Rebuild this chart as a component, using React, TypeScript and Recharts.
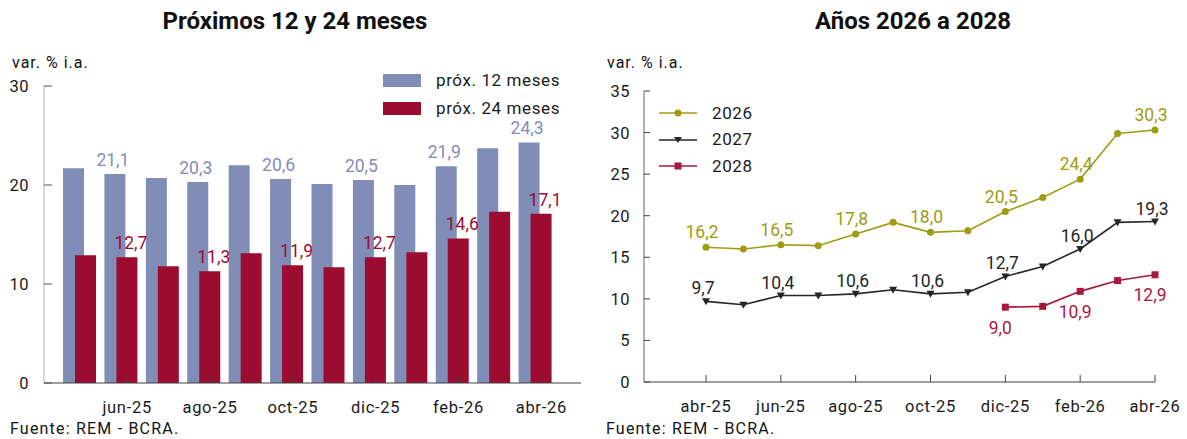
import React from 'react';
import { BarChart, Bar, XAxis, YAxis, LabelList, Legend, LineChart, Line } from 'recharts';

const FONT = 'Roboto, "Noto Sans", Arial, sans-serif';

// ---------- Left chart data ----------
const barMonths = ['may-25', 'jun-25', 'jul-25', 'ago-25', 'sep-25', 'oct-25', 'nov-25', 'dic-25', 'ene-26', 'feb-26', 'mar-26', 'abr-26'];
const barTickLabels = ['jun-25', 'ago-25', 'oct-25', 'dic-25', 'feb-26', 'abr-26'];
const next12 = [21.7, 21.1, 20.7, 20.3, 22.0, 20.6, 20.1, 20.5, 20.0, 21.9, 23.7, 24.3];
const next24 = [12.9, 12.7, 11.8, 11.3, 13.1, 11.9, 11.7, 12.7, 13.2, 14.6, 17.3, 17.1];
const barYTicks = [0, 10, 20, 30];

// ---------- Right chart data ----------
const lineMonths = ['abr-25', 'may-25', 'jun-25', 'jul-25', 'ago-25', 'sep-25', 'oct-25', 'nov-25', 'dic-25', 'ene-26', 'feb-26', 'mar-26', 'abr-26'];
const lineTickLabels = ['abr-25', 'jun-25', 'ago-25', 'oct-25', 'dic-25', 'feb-26', 'abr-26'];
const y2026 = [16.2, 16.0, 16.5, 16.4, 17.8, 19.2, 18.0, 18.2, 20.5, 22.2, 24.4, 29.9, 30.3];
const y2027 = [9.7, 9.3, 10.4, 10.4, 10.6, 11.1, 10.6, 10.8, 12.7, 13.9, 16.0, 19.2, 19.3];
const y2028 = [null, null, null, null, null, null, null, null, 9.0, 9.1, 10.9, 12.2, 12.9];
const lineYTicks = [0, 5, 10, 15, 20, 25, 30, 35];

const C_BLUE = '#7f8db7';
const C_RED = '#9b0c30';
const C_OLIVE = '#a09b12';
const C_DARK = '#262626';
const C_CRIMSON = '#a8183e';

const fmt = (v: any) => (v == null ? '' : Number(v).toFixed(1).replace('.', ','));

const barData = barMonths.map((m, i) => ({
  m,
  a: next12[i],
  b: next24[i],
  la: barTickLabels.includes(m) ? next12[i] : null,
  lb: barTickLabels.includes(m) ? next24[i] : null,
}));

const lineData = lineMonths.map((m, i) => {
  const lab = lineTickLabels.includes(m);
  return {
    m,
    a: y2026[i],
    b: y2027[i],
    c: y2028[i],
    la: lab ? y2026[i] : null,
    lb: lab ? y2027[i] : null,
    lc: lab ? y2028[i] : null,
  };
});

const makeYTick = (margin: number, tickLen: number, tickColor: string) => (props: any) => {
  const { x, y, payload } = props;
  const ax = x + margin;
  return (
    <g key={`yt-${payload.value}`}>
      <line x1={ax} x2={ax + tickLen} y1={y} y2={y} stroke={tickColor} strokeWidth={1} />
      <text x={x} y={y} dy="0.36em" textAnchor="end" fontFamily={FONT} fontSize={16.5} letterSpacing={0.5} fill="#1a1a1a">
        {payload.value}
      </text>
    </g>
  );
};

const makeXTick = (margin: number, labels: string[], dx: number, tickColor: string) => (props: any) => {
  const { x, y, payload } = props;
  if (!labels.includes(payload.value)) return <g key={`xt-${payload.value}`} />;
  const ay = y - margin;
  const tx = x + dx;
  return (
    <g key={`xt-${payload.value}`}>
      <line x1={tx} x2={tx} y1={ay} y2={ay - 7} stroke={tickColor} strokeWidth={1} />
      <text x={tx} y={ay + 30} textAnchor="middle" fontFamily={FONT} fontSize={16.5} letterSpacing={0.7} fill="#1a1a1a">
        {payload.value}
      </text>
    </g>
  );
};

const BarLegend = () => (
  <div style={{ fontFamily: FONT, fontSize: 17, letterSpacing: 0.6, color: '#1a1a1a' }}>
    {[
      { c: C_BLUE, t: 'próx. 12 meses' },
      { c: C_RED, t: 'próx. 24 meses' },
    ].map((it) => (
      <div key={it.t} style={{ display: 'flex', alignItems: 'center', height: 27.5 }}>
        <div style={{ width: 38, height: 13, background: it.c, marginRight: 15, flex: 'none' }} />
        <span style={{ lineHeight: 1 }}>{it.t}</span>
      </div>
    ))}
  </div>
);

const Marker = ({ kind, color }: { kind: string; color: string }) => (
  <svg width={38} height={10} style={{ marginRight: 15, overflow: 'visible', flex: 'none' }}>
    <line x1={0} x2={38} y1={5} y2={5} stroke={color} strokeWidth={1.6} />
    {kind === 'circle' && <circle cx={19} cy={5} r={3.5} fill={color} />}
    {kind === 'tri' && <path d="M15,2 L23,2 L19,8 Z" fill={color} />}
    {kind === 'square' && <rect x={15.5} y={1.5} width={7} height={7} fill={color} />}
  </svg>
);

const LineLegend = () => (
  <div style={{ fontFamily: FONT, fontSize: 17, letterSpacing: 0.6, color: '#1a1a1a' }}>
    {[
      { c: C_OLIVE, t: '2026', k: 'circle' },
      { c: C_DARK, t: '2027', k: 'tri' },
      { c: C_CRIMSON, t: '2028', k: 'square' },
    ].map((it) => (
      <div key={it.t} style={{ display: 'flex', alignItems: 'center', height: 26.5 }}>
        <Marker kind={it.k} color={it.c} />
        <span style={{ lineHeight: 1 }}>{it.t}</span>
      </div>
    ))}
  </div>
);

const circleDot = (color: string) => (p: any) =>
  p.cy == null ? <g key={p.index} /> : <circle key={p.index} cx={p.cx} cy={p.cy} r={3.5} fill={color} />;
const triDot = (color: string) => (p: any) =>
  p.cy == null ? <g key={p.index} /> : (
    <path key={p.index} d={`M${p.cx - 4},${p.cy - 3} L${p.cx + 4},${p.cy - 3} L${p.cx},${p.cy + 4} Z`} fill={color} />
  );
const squareDot = (color: string) => (p: any) =>
  p.cy == null ? <g key={p.index} /> : <rect key={p.index} x={p.cx - 3.5} y={p.cy - 3.5} width={7} height={7} fill={color} />;

const textStyle = (fs: number, bold = false, ls = 0): React.CSSProperties => ({
  position: 'absolute',
  fontFamily: FONT,
  fontSize: fs,
  fontWeight: bold ? 700 : 400,
  letterSpacing: ls,
  lineHeight: 1,
  color: '#111',
  whiteSpace: 'nowrap',
});

export default function App() {
  return (
    <div style={{ position: 'absolute', left: 0, top: 0, width: 1187, height: 439, background: '#fff', overflow: 'hidden' }}>
      <div style={{ ...textStyle(24, true), left: 0, width: 590, textAlign: 'center', top: 9 }}>Próximos 12 y 24 meses</div>
      <div style={{ ...textStyle(24, true), left: 618, width: 590, textAlign: 'center', top: 9 }}>Años 2026 a 2028</div>
      <div style={{ ...textStyle(16, false, 1), left: 12, top: 55 }}>var. % i.a.</div>
      <div style={{ ...textStyle(16, false, 1), left: 607, top: 55 }}>var. % i.a.</div>
      <div style={{ ...textStyle(16, false, 1.2), left: 10, top: 421 }}>Fuente: REM - BCRA.</div>
      <div style={{ ...textStyle(16, false, 1.2), left: 606, top: 421 }}>Fuente: REM - BCRA.</div>

      <div style={{ position: 'absolute', left: 0, top: 0 }}>
        <BarChart
          width={600}
          height={439}
          data={barData}
          margin={{ top: 86, right: 19, bottom: 26, left: 0 }}
          barSize={21}
          barGap={-9}
        >
          <XAxis
            dataKey="m"
            interval={0}
            height={30}
            padding={{ left: 15, right: 25 }}
            axisLine={{ stroke: '#404040' }}
            tickLine={false}
            tickSize={0}
            tickMargin={14}
            tick={makeXTick(14, barTickLabels, 6, '#404040')}
          />
          <YAxis
            domain={[0, 30]}
            ticks={barYTicks}
            width={44}
            axisLine={{ stroke: '#b0b0b0' }}
            tickLine={false}
            tickSize={0}
            tickMargin={15}
            tick={makeYTick(15, 8, '#555')}
          />
          <Legend
            layout="vertical"
            align="center"
            verticalAlign="middle"
            wrapperStyle={{ left: 383, top: 67, width: 210, height: 56 }}
            content={() => <BarLegend />}
          />
          <Bar dataKey="a" fill={C_BLUE} isAnimationActive={false}>
            <LabelList dataKey="la" position="top" offset={8} dx={-2} formatter={fmt} fill={C_BLUE} fontFamily={FONT} fontSize={17.5} />
          </Bar>
          <Bar dataKey="b" fill={C_RED} isAnimationActive={false}>
            <LabelList dataKey="lb" position="top" offset={8} dx={4} formatter={fmt} fill={C_RED} fontFamily={FONT} fontSize={17.5} />
          </Bar>
        </BarChart>
      </div>

      <div style={{ position: 'absolute', left: 595, top: 0 }}>
        <LineChart width={592} height={439} data={lineData} margin={{ top: 91, right: 32, bottom: 27, left: 0 }}>
          <XAxis
            dataKey="m"
            scale="point"
            interval={0}
            height={30}
            padding={{ left: 62, right: 0 }}
            axisLine={{ stroke: '#404040' }}
            tickLine={false}
            tickSize={0}
            tickMargin={14}
            tick={makeXTick(14, lineTickLabels, 0, '#404040')}
          />
          <YAxis
            domain={[0, 35]}
            ticks={lineYTicks}
            width={49}
            axisLine={{ stroke: '#606060' }}
            tickLine={false}
            tickSize={0}
            tickMargin={14}
            tick={makeYTick(14, 6, '#404040')}
          />
          <Legend
            layout="vertical"
            align="center"
            verticalAlign="middle"
            wrapperStyle={{ left: 64, top: 100, width: 150, height: 80 }}
            content={() => <LineLegend />}
          />
          <Line dataKey="a" stroke={C_OLIVE} strokeWidth={1.6} dot={circleDot(C_OLIVE)} isAnimationActive={false}>
            <LabelList dataKey="la" position="top" offset={9} dx={-4} formatter={fmt} fill={C_OLIVE} fontFamily={FONT} fontSize={17.5} />
          </Line>
          <Line dataKey="b" stroke={C_DARK} strokeWidth={1.6} dot={triDot(C_DARK)} isAnimationActive={false}>
            <LabelList dataKey="lb" position="top" offset={7} dx={-3} formatter={fmt} fill={C_DARK} fontFamily={FONT} fontSize={17.5} />
          </Line>
          <Line dataKey="c" stroke={C_CRIMSON} strokeWidth={1.6} dot={squareDot(C_CRIMSON)} isAnimationActive={false}>
            <LabelList dataKey="lc" position="bottom" offset={14} dx={-5} formatter={fmt} fill={C_CRIMSON} fontFamily={FONT} fontSize={17.5} />
          </Line>
        </LineChart>
      </div>
    </div>
  );
}
